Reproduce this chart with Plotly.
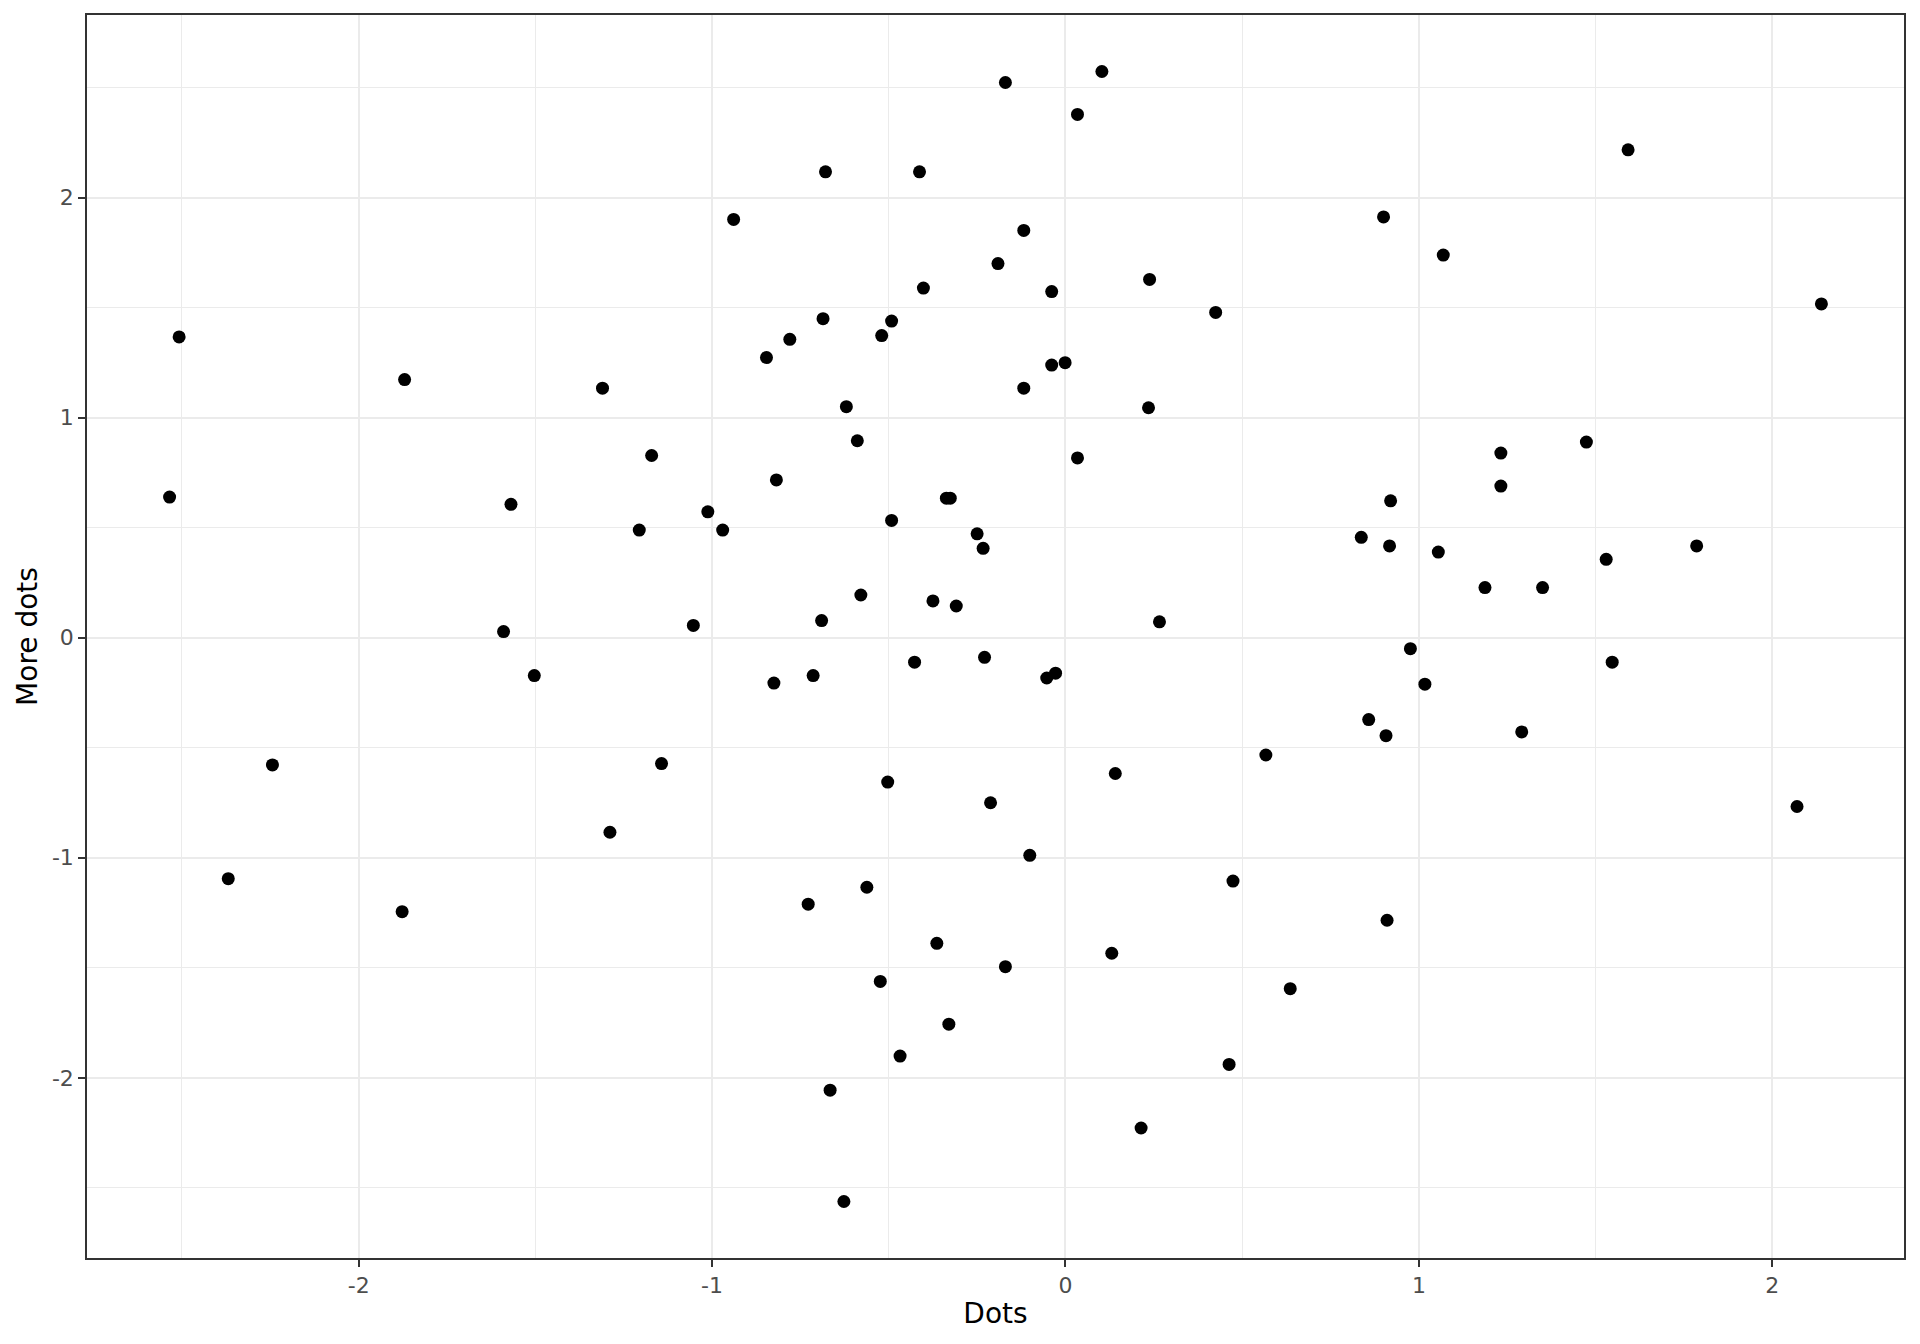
import plotly.graph_objects as go

dots = [-2.508, -2.535, -2.369, -2.244, -1.870, -1.877, -1.569, -1.590, -1.503, -1.310,
        -1.289, -1.206, -1.171, -1.143, -1.053, -1.012, -0.970, -0.939, -0.846, -0.818,
        -0.825, -0.780, -0.728, -0.714, -0.679, -0.686, -0.690, -0.666, -0.627, -0.620,
        -0.589, -0.579, -0.562, -0.520, -0.503, -0.524, -0.492, -0.492, -0.468, -0.413,
        -0.402, -0.427, -0.375, -0.364, -0.337, -0.326, -0.330, -0.309, -0.250, -0.233,
        -0.229, -0.212, -0.191, -0.170, -0.170, -0.118, -0.118, -0.101, -0.053, -0.039,
        -0.039, -0.028, -0.001, 0.034, 0.034, 0.103, 0.131, 0.141, 0.214, 0.235,
        0.238, 0.266, 0.425, 0.463, 0.474, 0.567, 0.636, 0.837, 0.858, 0.900,
        0.907, 0.910, 0.917, 0.920, 0.976, 1.017, 1.055, 1.069, 1.187, 1.232,
        1.232, 1.291, 1.350, 1.474, 1.530, 1.547, 1.592, 1.786, 2.070, 2.139]

more_dots = [1.367, 0.639, -1.095, -0.578, 1.173, -1.245, 0.606, 0.028, -0.172, 1.134,
             -0.884, 0.489, 0.828, -0.572, 0.056, 0.572, 0.489, 1.901, 1.273, 0.717,
             -0.206, 1.356, -1.211, -0.172, 2.117, 1.450, 0.078, -2.056, -2.562, 1.050,
             0.895, 0.194, -1.134, 1.373, -0.656, -1.562, 1.439, 0.533, -1.901, 2.117,
             1.589, -0.111, 0.167, -1.389, 0.634, 0.634, -1.756, 0.144, 0.472, 0.406,
             -0.089, -0.750, 1.700, 2.523, -1.495, 1.851, 1.134, -0.989, -0.183, 1.573,
             1.239, -0.161, 1.250, 2.378, 0.817, 2.573, -1.434, -0.617, -2.228, 1.045,
             1.628, 0.072, 1.478, -1.939, -1.106, -0.533, -1.595, 0.456, -0.372, 1.912,
             -0.445, -1.284, 0.417, 0.622, -0.050, -0.211, 0.389, 1.739, 0.228, 0.839,
             0.689, -0.428, 0.228, 0.889, 0.356, -0.111, 2.217, 0.417, -0.767, 1.517]

x_ticks = [-2, -1, 0, 1, 2]
y_ticks = [-2, -1, 0, 1, 2]


def expand(vals, frac=0.05):
    lo, hi = min(vals), max(vals)
    pad = (hi - lo) * frac
    return [lo - pad, hi + pad]


fig = go.Figure()
fig.add_trace(go.Scatter(
    x=dots, y=more_dots, mode="markers",
    marker=dict(color="black", size=13, line=dict(width=0)),
    showlegend=False,
))

axis_common = dict(
    automargin=False,
    showline=True, mirror=True, linecolor="#333333", linewidth=1.5,
    ticks="outside", ticklen=7, tickwidth=2, tickcolor="#333333",
    tickfont=dict(family="DejaVu Sans", size=22, color="#4D4D4D"),
    showgrid=True, gridcolor="#EBEBEB", gridwidth=2,
    zeroline=False,
    minor=dict(dtick=0.5, showgrid=True, gridcolor="#EBEBEB", gridwidth=1, ticks=""),
)

# page body adds an 8px offset, so the figure is sized to fit the window
fig.update_layout(
    width=1912, height=1336,
    margin=dict(l=79, r=16, t=7, b=86),
    paper_bgcolor="white", plot_bgcolor="white",
    font=dict(family="DejaVu Sans"),
    xaxis=dict(range=expand(dots), tickvals=x_ticks, ticktext=[str(v) for v in x_ticks],
               title=dict(text="Dots", font=dict(size=28, color="black"), standoff=6),
               **axis_common),
    yaxis=dict(range=expand(more_dots), tickvals=y_ticks, ticktext=[str(v) for v in y_ticks],
               title=dict(text="More dots", font=dict(size=28, color="black"), standoff=6),
               **axis_common),
)

fig.write_html("out.html")
